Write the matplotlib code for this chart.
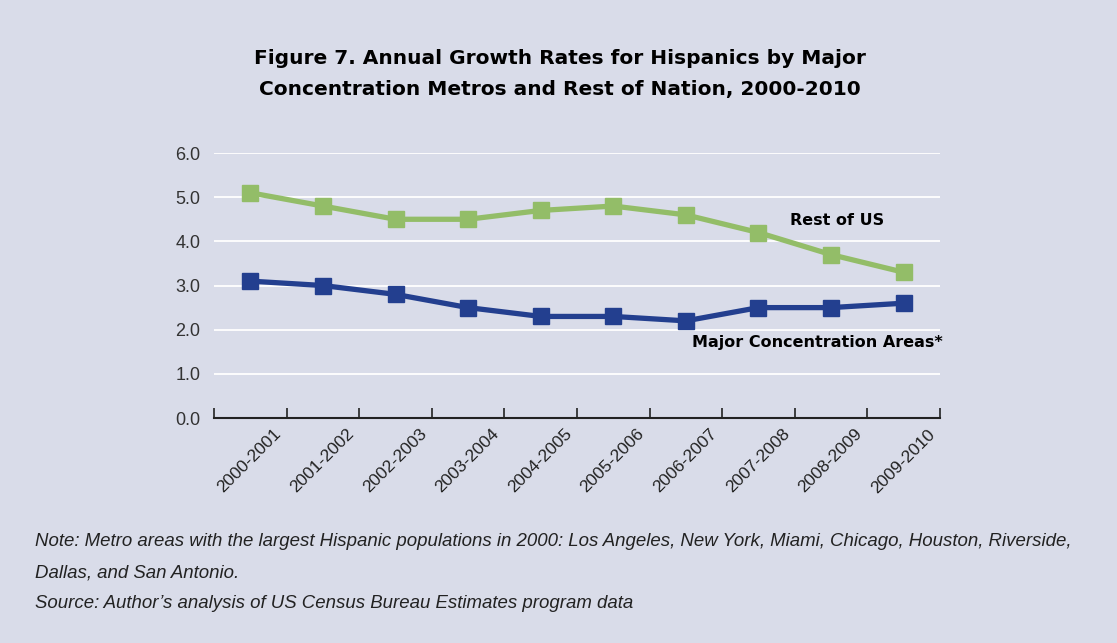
import matplotlib
matplotlib.use("Agg")

import matplotlib.pyplot as plt
from matplotlib.transforms import ScaledTranslation

# -----------------------------
# Data
# -----------------------------

periods = ["2000-2001", "2001-2002", "2002-2003", "2003-2004", "2004-2005",
           "2005-2006", "2006-2007", "2007-2008", "2008-2009", "2009-2010"]
rest_of_us = [5.1, 4.8, 4.5, 4.5, 4.7, 4.8, 4.6, 4.2, 3.7, 3.3]
major_areas = [3.1, 3.0, 2.8, 2.5, 2.3, 2.3, 2.2, 2.5, 2.5, 2.6]
y_ticks = [0.0, 1.0, 2.0, 3.0, 4.0, 5.0, 6.0]

bg = "#d9dce9"
green = "#93bd68"
blue = "#233f8f"

fig = plt.figure(figsize=(11.17, 6.43), dpi=100, facecolor=bg)
ax = fig.add_axes([0.1916, 0.3499, 0.8415 - 0.1916, 0.762 - 0.3499])
ax.set_facecolor(bg)

x = [i + 0.5 for i in range(len(periods))]

ax.plot(x, rest_of_us, color=green, lw=3.8, marker="s", ms=12,
        solid_joinstyle="miter", zorder=3)
ax.plot(x, major_areas, color=blue, lw=3.8, marker="s", ms=12,
        solid_joinstyle="miter", zorder=3)

ax.set_xlim(0, len(periods))
ax.set_ylim(0, 6)

# gridlines
ax.set_yticks(y_ticks)
ax.set_yticklabels([f"{v:.1f}" for v in y_ticks], fontsize=13,
                   color="#333333", family="Liberation Sans")
ax.yaxis.grid(True, color="white", lw=1.3)
ax.set_axisbelow(True)
ax.tick_params(axis="y", length=0, pad=10)

ax.set_xticks(range(len(periods) + 1))
ax.set_xticklabels([""] + periods, rotation=45, ha="right",
                   rotation_mode="anchor", fontsize=12.5, color="#222222",
                   family="Liberation Sans")
ax.tick_params(axis="x", direction="in", length=7, width=1.2,
               color="#222222", pad=6)
shift = ScaledTranslation(-13 / 100, 0, fig.dpi_scale_trans)
for lab in ax.get_xticklabels():
    lab.set_transform(lab.get_transform() + shift)

for s in ["top", "right", "left"]:
    ax.spines[s].set_visible(False)
ax.spines["bottom"].set_color("#222222")
ax.spines["bottom"].set_linewidth(1.5)

# series labels
ax.text(7.93, 4.48, "Rest of US", fontsize=11.5, fontweight="bold",
        va="center", ha="left", color="black")
ax.text(10.04, 1.70, "Major Concentration Areas*", fontsize=11.5,
        fontweight="bold", va="center", ha="right", color="black")

# -----------------------------
# Title and notes
# -----------------------------

fig.text(0.501, 0.885, "Figure 7. Annual Growth Rates for Hispanics by Major\n"
         "Concentration Metros and Rest of Nation, 2000-2010",
         ha="center", va="center", fontsize=14.5, fontweight="bold",
         linespacing=1.75)

notes = [
    "Note: Metro areas with the largest Hispanic populations in 2000: Los Angeles, "
    "New York, Miami, Chicago, Houston, Riverside,",
    "Dallas, and San Antonio.",
    "Source: Author\u2019s analysis of US Census Bureau Estimates program data",
]
for i, line in enumerate(notes):
    fig.text(35 / 1117, 1 - (541 + 31.5 * i) / 643, line, ha="left",
             va="center", fontsize=13.4, style="italic", color="#222222",
             family="Liberation Sans")

plt.savefig("out.png", dpi=100, facecolor=bg)
plt.close("all")
